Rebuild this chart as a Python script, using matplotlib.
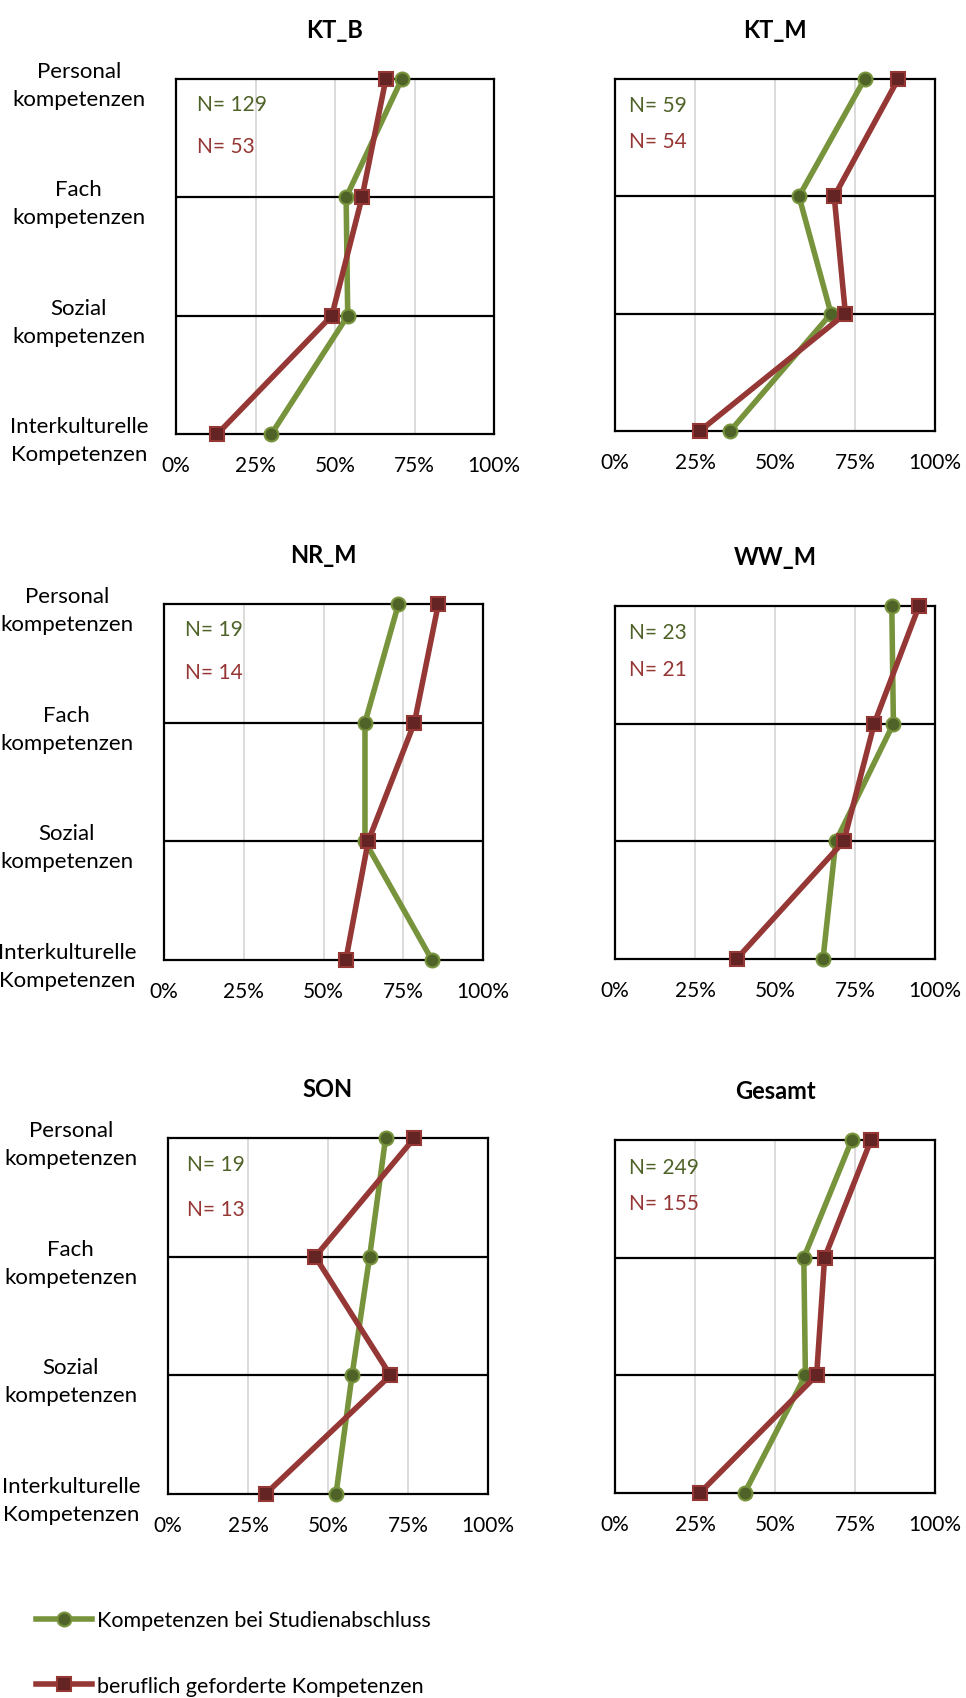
import numpy as np
import matplotlib
matplotlib.use("Agg")
from matplotlib import pyplot as plt

plt.rcParams['font.family'] = ['Lato', 'DejaVu Sans']

# data
categories = ["Personal\nkompetenzen", "Fach\nkompetenzen", "Sozial\nkompetenzen", "Interkulturelle\nKompetenzen"]
panels = ["KT_B", "KT_M", "NR_M", "WW_M", "SON", "Gesamt"]
abschluss = [
    [71, 53.5, 54, 30],
    [78, 57.5, 67.5, 36],
    [73.5, 63, 63, 84],
    [86.5, 87, 69, 65],
    [68, 63, 57.5, 52.5],
    [74, 59, 59.5, 40.5],
]
gefordert = [
    [66, 58.5, 49, 13],
    [88.5, 68.5, 72, 26.5],
    [86, 78.5, 64, 57],
    [95, 81, 71.5, 38],
    [77, 46, 69.5, 30.5],
    [80, 65.5, 63, 26.5],
]
n_abschluss = [129, 59, 19, 23, 19, 249]
n_gefordert = [53, 54, 14, 21, 13, 155]
xticks = [0, 25, 50, 75, 100]
xticklabels = ["0%", "25%", "50%", "75%", "100%"]
legend_labels = ["Kompetenzen bei Studienabschluss", "beruflich geforderte Kompetenzen"]

GREEN, GREEN_D = "#77933C", "#4F6228"
RED, RED_D = "#953735", "#632423"

W, H = 966, 1699
fig = plt.figure(figsize=(W / 100, H / 100), dpi=100)

# axes boxes in pixels: x0, x1, ytop, ybottom
boxes = [(176, 494, 80, 435), (615, 935, 80, 432),
         (164, 483, 605, 961), (615, 935, 607, 960),
         (168, 488, 1139, 1495), (615, 935, 1141, 1494)]
# N= label positions (axes fraction from left, from top)
n_pos = [(0.066, 0.07, 0.19), (0.044, 0.073, 0.175),
         (0.066, 0.07, 0.19), (0.044, 0.073, 0.178),
         (0.06, 0.073, 0.20), (0.044, 0.076, 0.178)]

ypos = np.arange(len(categories))
handles = []
for i, name in enumerate(panels):
    x0, x1, yt, yb = boxes[i]
    ax = fig.add_axes([x0 / W, 1 - yb / H, (x1 - x0) / W, (yb - yt) / H])
    ax.set_xlim(0, 100)
    ax.set_ylim(3, 0)
    for v in [25, 50, 75]:
        ax.axvline(v, color="#D9D9D9", lw=1.3, zorder=0)
    for v in [1, 2]:
        ax.axhline(v, color="black", lw=1.6, zorder=1)
    h1, = ax.plot(abschluss[i], ypos, color=GREEN, lw=4, marker="o", ms=10,
                  mfc=GREEN_D, mec=GREEN, mew=1.5, clip_on=False, zorder=3)
    h2, = ax.plot(gefordert[i], ypos, color=RED, lw=4, marker="s", ms=10,
                  mfc=RED_D, mec=RED, mew=1.5, clip_on=False, zorder=4)
    handles = [h1, h2]
    for s in ax.spines.values():
        s.set_color("black")
        s.set_linewidth(1.6)
    ax.set_xticks(xticks)
    ax.set_xticklabels(xticklabels, fontsize=15)
    ax.tick_params(axis="x", length=0, pad=15)
    ax.set_yticks(ypos)
    if i % 2 == 0:
        ax.set_yticklabels(categories, fontsize=16, ha="center", linespacing=1.5)
        ax.tick_params(axis="y", length=0, pad=70)
    else:
        ax.set_yticklabels([])
        ax.tick_params(axis="y", length=0)
    ax.set_title(name, fontsize=17, fontweight="bold", pad=30)
    tx, ty1, ty2 = n_pos[i]
    ax.text(tx, 1 - ty1, "N= %d" % n_abschluss[i], transform=ax.transAxes,
            color=GREEN_D, fontsize=15, va="center", ha="left")
    ax.text(tx, 1 - ty2, "N= %d" % n_gefordert[i], transform=ax.transAxes,
            color=RED, fontsize=15, va="center", ha="left")

fig.legend(handles, legend_labels, loc="center left",
           bbox_to_anchor=(36 / W, 1 - 1654 / H), frameon=False, fontsize=15.5,
           handlelength=2.6, handletextpad=0.25, labelspacing=2.1,
           borderpad=0, borderaxespad=0)

fig.savefig("out.png", dpi=100)
